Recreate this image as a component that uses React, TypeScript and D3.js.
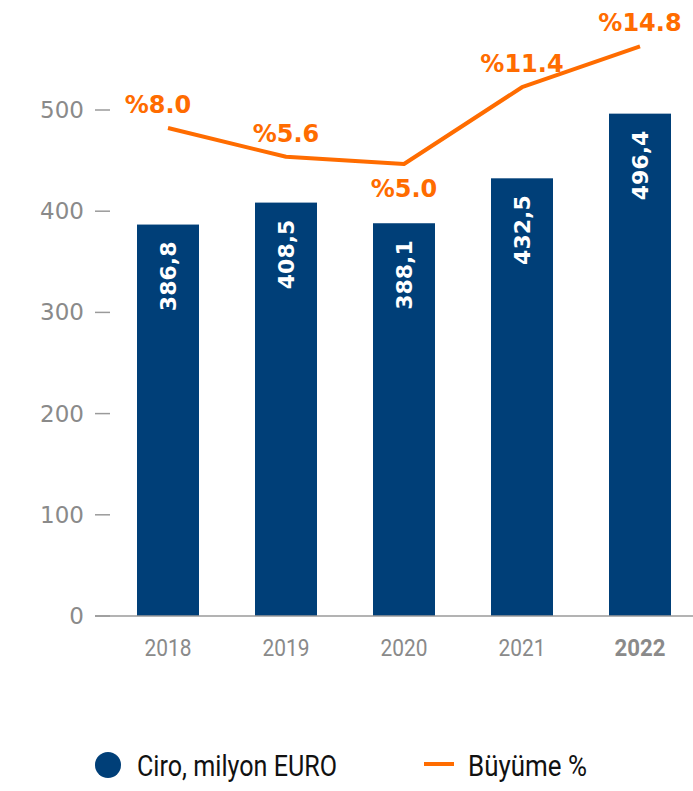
import React from "react";
import * as d3 from "d3";

const years = ["2018", "2019", "2020", "2021", "2022"];
const revenue = [386.8, 408.5, 388.1, 432.5, 496.4];
const revenueLabels = ["386,8", "408,5", "388,1", "432,5", "496,4"];
const growth = [8.0, 5.6, 5.0, 11.4, 14.8];
const growthLabels = ["%8.0", "%5.6", "%5.0", "%11.4", "%14.8"];
const growthLabelBelow = [false, false, true, false, false];
const yTicks = [0, 100, 200, 300, 400, 500];

const W = 693;
const H = 791;
const BLUE = "#003f78";
const ORANGE = "#ff6c00";
const GRAY = "#8a8a8a";

export default function App() {
  const x = d3
    .scaleBand<string>()
    .domain(years)
    .range([109, 699])
    .paddingInner(0.4746)
    .paddingOuter(0.2373);
  const y = d3.scaleLinear().domain([0, 500]).range([616, 110]);
  const yG = d3.scaleLinear().domain([0, 15]).range([224, 44]);

  const line = d3
    .line<number>()
    .x((_, i) => (x(years[i]) as number) + x.bandwidth() / 2)
    .y((d) => yG(d));

  return (
    <svg
      width={W}
      height={H}
      style={{ position: "absolute", left: 0, top: 0, background: "#fff" }}
      fontFamily="'DejaVu Sans', sans-serif"
    >
      {/* y axis ticks */}
      {yTicks.map((t) => (
        <g key={t}>
          <line x1={95} x2={110} y1={y(t)} y2={y(t)} stroke="#9a9a9a" strokeWidth={1.5} />
          <text
            x={84}
            y={y(t) + 8}
            textAnchor="end"
            fill={GRAY}
            fontSize={23}
          >
            {t}
          </text>
        </g>
      ))}
      {/* bars */}
      {revenue.map((v, i) => {
        const bx = x(years[i]) as number;
        const cx = bx + x.bandwidth() / 2;
        const top = y(v);
        return (
          <g key={years[i]}>
            <rect x={bx} y={top} width={x.bandwidth()} height={y(0) - top} fill={BLUE} />
            <text
              transform={`translate(${cx + 8},${top + 17}) rotate(-90)`}
              textAnchor="end"
              fill="#fff"
              fontWeight={700}
              fontSize={22}
            >
              {revenueLabels[i]}
            </text>
          </g>
        );
      })}
      {/* baseline */}
      <line x1={95} x2={693} y1={616} y2={616} stroke="#9a9a9a" strokeWidth={1.5} />
      {/* x labels */}
      {years.map((yr, i) => {
        const last = i === years.length - 1;
        return (
          <text
            key={yr}
            x={(x(yr) as number) + x.bandwidth() / 2}
            y={656}
            textAnchor="middle"
            fill={GRAY}
            fontSize={24}
            fontWeight={last ? 700 : 400}
            fontFamily="Roboto, sans-serif"
            textLength={last ? 51 : 47}
            lengthAdjust="spacingAndGlyphs"
          >
            {yr}
          </text>
        );
      })}
      {/* growth line */}
      <path d={line(growth) || ""} fill="none" stroke={ORANGE} strokeWidth={4} strokeLinejoin="round" />
      {growth.map((g, i) => {
        const cx = (x(years[i]) as number) + x.bandwidth() / 2;
        const py = yG(g);
        return (
          <text
            key={i}
            x={i === 0 ? cx - 10 : cx}
            y={growthLabelBelow[i] ? py + 33 : py - 15}
            textAnchor="middle"
            fill={ORANGE}
            fontWeight={700}
            fontSize={24}
          >
            {growthLabels[i]}
          </text>
        );
      })}
      {/* legend */}
      <circle cx={108} cy={765} r={13} fill={BLUE} />
      <text
        x={137}
        y={776}
        fontSize={29}
        fill="#111"
        fontFamily="Roboto, sans-serif"
        textLength={200}
        lengthAdjust="spacingAndGlyphs"
      >
        Ciro, milyon EURO
      </text>
      <line x1={424} x2={454} y1={764} y2={764} stroke={ORANGE} strokeWidth={4} />
      <text
        x={468}
        y={776}
        fontSize={29}
        fill="#111"
        fontFamily="Roboto, sans-serif"
        textLength={119}
        lengthAdjust="spacingAndGlyphs"
      >
        Büyüme %
      </text>
    </svg>
  );
}
